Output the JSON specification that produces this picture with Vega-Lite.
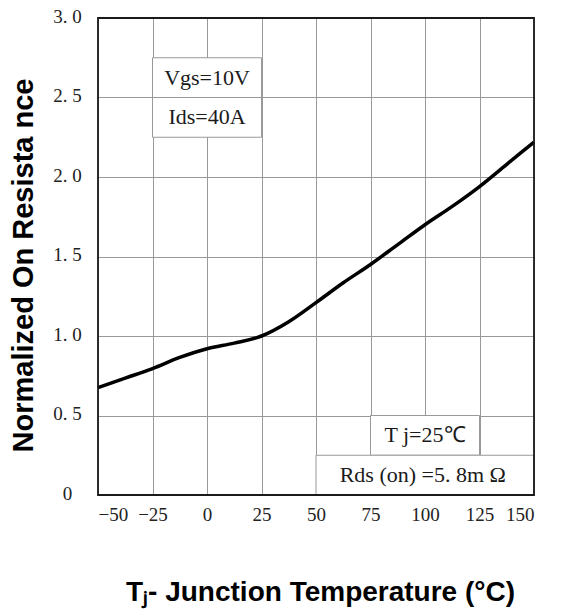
{
  "$schema": "https://vega.github.io/schema/vega-lite/v6.json",
  "width": 436,
  "height": 477,
  "autosize": {"type": "none"},
  "padding": {"left": 98, "top": 18, "right": 41, "bottom": 119},
  "background": "white",
  "config": {"view": {"stroke": null}},
  "datasets": {
    "curve": [
      {"t": -50, "r": 0.675}, {"t": -37.5, "r": 0.735}, {"t": -25, "r": 0.795},
      {"t": -12.5, "r": 0.865}, {"t": 0, "r": 0.92}, {"t": 12.5, "r": 0.955},
      {"t": 25, "r": 1.0}, {"t": 37.5, "r": 1.09},
      {"t": 50, "r": 1.21}, {"t": 62.5, "r": 1.335}, {"t": 75, "r": 1.45},
      {"t": 87.5, "r": 1.575}, {"t": 100, "r": 1.7}, {"t": 112.5, "r": 1.815},
      {"t": 125, "r": 1.94}, {"t": 137.5, "r": 2.08}, {"t": 150, "r": 2.22}
    ],
    "boxes": [
      {"x1": -25, "x2": 25, "y1": 2.25, "y2": 2.75},
      {"x1": 75, "x2": 125, "y1": 0.25, "y2": 0.5},
      {"x1": 50, "x2": 150, "y1": 0, "y2": 0.25}
    ],
    "inner": [
      {"x1": -25, "x2": 25, "y": 2.5}
    ],
    "labels": [
      {"x": 0, "y": 2.625, "txt": "Vgs=10V"},
      {"x": 0, "y": 2.375, "txt": "Ids=40A"},
      {"x": 100, "y": 0.375, "txt": "T j=25℃"},
      {"x": 99, "y": 0.125, "txt": "Rds (on) =5. 8m Ω"}
    ],
    "frame": [
      {"x1": -50, "x2": 150, "y1": 0, "y2": 3}
    ]
  },
  "layer": [
    {
      "data": {"name": "boxes"},
      "mark": {"type": "rect", "fill": "white", "stroke": "#999999", "strokeWidth": 1},
      "encoding": {
        "x": {
          "field": "x1", "type": "quantitative",
          "scale": {"domain": [-50, 150], "nice": false, "zero": false},
          "axis": {
            "values": [-50, -25, 0, 25, 50, 75, 100, 125, 150],
            "grid": true, "gridColor": "#999999", "gridWidth": 1,
            "domain": false, "ticks": false,
            "labelFont": "Liberation Serif", "labelFontSize": 19, "labelColor": "#222222",
            "labelPadding": 10,
            "title": "Tⱼ- Junction Temperature (°C)",
            "titleFont": "Liberation Sans", "titleFontWeight": "bold", "titleFontSize": 28,
            "titleColor": "#000000",
            "titleX": 222, "titleY": 105, "titleAlign": "center", "titleBaseline": "alphabetic"
          }
        },
        "x2": {"field": "x2"},
        "y": {
          "field": "y1", "type": "quantitative",
          "scale": {"domain": [0, 3], "nice": false},
          "axis": {
            "values": [0, 0.25, 0.5, 0.75, 1, 1.25, 1.5, 1.75, 2, 2.25, 2.5, 2.75, 3],
            "labelExpr": "datum.value == 0 ? '0' : (abs(datum.value * 2 - round(datum.value * 2)) < 0.001 ? replace(format(datum.value, '.1f'), '.', '. ') : '')",
            "grid": true, "gridColor": "#999999", "gridWidth": 1,
            "domain": false, "ticks": false,
            "labelFont": "Liberation Serif", "labelFontSize": 19, "labelColor": "#222222",
            "labelAlign": "center", "labelPadding": 31, "labelBaseline": "middle", "labelOffset": -2,
            "title": "Normalized On Resista nce",
            "titleFont": "Liberation Sans", "titleFontWeight": "bold", "titleFontSize": 29,
            "titleColor": "#000000", "titleAngle": 270,
            "titleX": -66, "titleY": 247, "titleAlign": "center", "titleBaseline": "alphabetic"
          }
        },
        "y2": {"field": "y2"}
      }
    },
    {
      "data": {"name": "inner"},
      "mark": {"type": "rule", "color": "#999999", "strokeWidth": 1},
      "encoding": {
        "x": {"field": "x1", "type": "quantitative"},
        "x2": {"field": "x2"},
        "y": {"field": "y", "type": "quantitative"}
      }
    },
    {
      "data": {"name": "labels"},
      "mark": {"type": "text", "font": "Liberation Serif", "fontSize": 22, "color": "#1a1a1a", "align": "center", "baseline": "middle"},
      "encoding": {
        "x": {"field": "x", "type": "quantitative"},
        "y": {"field": "y", "type": "quantitative"},
        "text": {"field": "txt"}
      }
    },
    {
      "data": {"name": "curve"},
      "mark": {"type": "line", "color": "#000000", "strokeWidth": 3.5, "interpolate": "monotone"},
      "encoding": {
        "x": {"field": "t", "type": "quantitative"},
        "y": {"field": "r", "type": "quantitative"}
      }
    },
    {
      "data": {"name": "frame"},
      "mark": {"type": "rect", "fill": null, "fillOpacity": 0, "stroke": "#1a1a1a", "strokeWidth": 1.8},
      "encoding": {
        "x": {"field": "x1", "type": "quantitative"},
        "x2": {"field": "x2"},
        "y": {"field": "y1", "type": "quantitative"},
        "y2": {"field": "y2"}
      }
    }
  ]
}
